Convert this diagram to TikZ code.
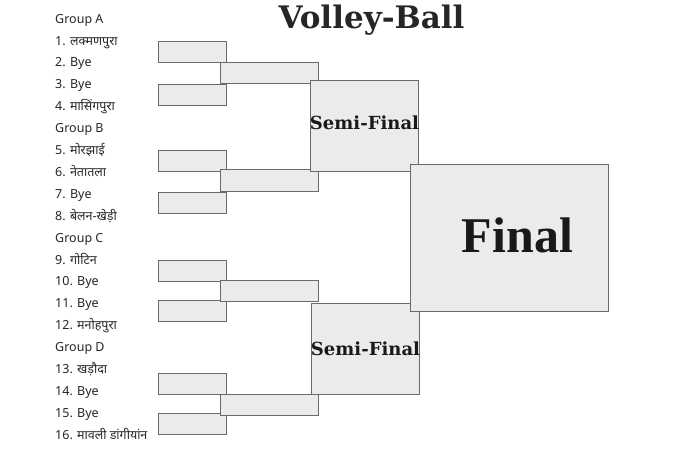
\documentclass[tikz,border=0pt]{standalone}
\usepackage{fontspec}
\usepackage{tikz}
\usetikzlibrary{calc}
\setmainfont{Noto Sans}
\newfontfamily\deva[Script=Devanagari]{Noto Sans}
\newfontfamily\headfont{DejaVu Serif}
\newfontfamily\finalfont{Liberation Serif}
\definecolor{slotfill}{HTML}{EBEBEB}
\definecolor{slotline}{HTML}{6A6A6A}

\begin{document}
\begin{tikzpicture}[x=1pt,y=-1pt,
        slot/.style={draw=slotline,fill=slotfill,line width=0.9pt,anchor=north west,inner sep=0pt,outer sep=0pt,minimum width=68pt,minimum height=21pt},
        second/.style={slot,minimum width=98pt,minimum height=21.5pt},
        semi/.style={slot,minimum width=108pt,minimum height=91pt},
        semitext/.style={inner sep=0pt,font=\headfont\bfseries\fontsize{18}{20}\selectfont,text=black!90},
        finalbox/.style={slot,minimum width=198pt,minimum height=147pt},
        team/.style={anchor=base west,inner sep=0pt,font=\deva\fontsize{12.5}{14}\selectfont,text=black!85}]
        \useasboundingbox (0,0) rectangle (693,462);

        \node[anchor=center,inner sep=0pt,font=\headfont\bfseries\fontsize{31}{34}\selectfont,text=black!85] (title) at (371.5,20.5) {Volley-Ball};

        \node[team] (ga) at (55,23.2) {Group A};
        \node[team] (t1) at (55,45.1) {1. लक्मणपुरा};
        \node[team] (t2) at (55,67.0) {2. Bye};
        \node[team] (t3) at (55,88.9) {3. Bye};
        \node[team] (t4) at (55,110.8) {4. मासिंगपुरा};
        \node[team] (gb) at (55,132.7) {Group B};
        \node[team] (t5) at (55,154.6) {5. मोरझाई};
        \node[team] (t6) at (55,176.5) {6. नेतातला};
        \node[team] (t7) at (55,198.4) {7. Bye};
        \node[team] (t8) at (55,220.3) {8. बेलन-खेड़ी};
        \node[team] (gc) at (55,242.2) {Group C};
        \node[team] (t9) at (55,264.1) {9. गोटिन};
        \node[team] (t10) at (55,286.0) {10. Bye};
        \node[team] (t11) at (55,307.9) {11. Bye};
        \node[team] (t12) at (55,329.8) {12. मनोहपुरा};
        \node[team] (gd) at (55,351.7) {Group D};
        \node[team] (t13) at (55,373.6) {13. खड़ौदा};
        \node[team] (t14) at (55,395.5) {14. Bye};
        \node[team] (t15) at (55,417.4) {15. Bye};
        \node[team] (t16) at (55,439.3) {16. मावली डांगीयांन};

        \node[slot] (r1a) at (158,41) {};
        \node[slot] (r1b) at (158,84) {};
        \node[slot] (r1c) at (158,150) {};
        \node[slot] (r1d) at (158,192) {};
        \node[slot] (r1e) at (158,260) {};
        \node[slot] (r1f) at (158,300.5) {};
        \node[slot] (r1g) at (158,373) {};
        \node[slot] (r1h) at (158,413) {};

        \node[second] (r2a) at (220,62) {};
        \node[second] (r2b) at (220,169.5) {};
        \node[second] (r2c) at (220,280) {};
        \node[second] (r2d) at (220,394) {};

        \node[semi] (sf1) at (310,80) {};
        \node[semitext] (sf1text) at (364.5,122.5) {Semi-Final};
        \node[semi] (sf2) at (311,303) {};
        \node[semitext] (sf2text) at (365.5,348.5) {Semi-Final};

        \node[finalbox] (fin) at (410,164) {};
        \node[inner sep=0pt,font=\finalfont\bfseries\fontsize{50}{56}\selectfont,text=black!90] (fintext) at (517.5,235) {Final};
    \end{tikzpicture}
\end{document}
